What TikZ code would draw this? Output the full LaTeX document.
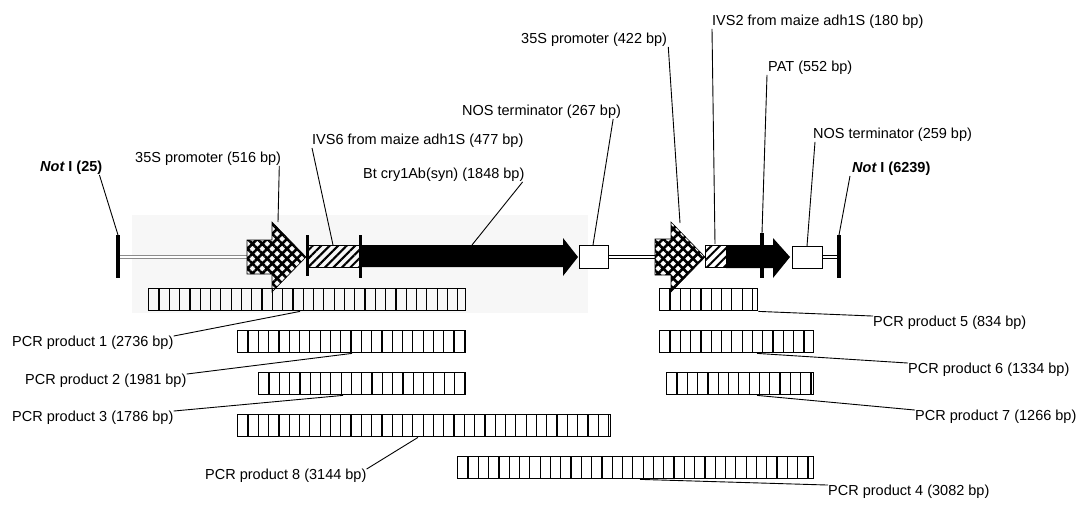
\documentclass[tikz,border=0pt]{standalone}
\usepackage{fontspec}
\setmainfont{Liberation Sans}
\usetikzlibrary{patterns.meta}
\tikzset{
  lbl/.style={font=\fontsize{14.5}{16}\selectfont,inner sep=0,anchor=west},
  leader/.style={line width=0.9pt},
  site/.style={line width=3.6pt},
  backbone/.style={line width=1.2pt,double=white,double distance=2.4pt},
  pcrbar/.style={draw,line width=1.4pt,inner sep=0,minimum height=22,anchor=north west,
    path picture={\foreach \k in {1,...,40}
      \draw[line width=1.2pt] ([xshift=\k*10.3]path picture bounding box.south west)
        -- ([xshift=\k*10.3]path picture bounding box.north west);}},
}

\begin{document}
\begin{tikzpicture}[x=1pt,y=-1pt]
  \useasboundingbox (0,0) rectangle (1081,516);
  \def\yc{257}
  % faint scan shadow behind the left cassette
  \fill[black!3] (132,215) rectangle (588,313);

  % backbone and Not I sites
  \draw[backbone,black!45] (118,\yc) -- (247,\yc);
  \draw[backbone] (608,\yc) -- (655,\yc);
  \draw[backbone] (822,\yc) -- (838,\yc);
  \draw[site] (118,235) -- (118,278);
  \draw[site] (839,235) -- (839,278);

  % cassette 1: 35S - IVS6 - cry1Ab - NOS
  \filldraw[pattern={Hatch[angle=45,distance=7pt,line width=2.6pt]},line width=0.6pt]
    (247,240) -- (272,240) -- (272,222) -- (306,\yc) -- (272,292) -- (272,274) -- (247,274) -- cycle;
  \filldraw[pattern={Lines[angle=45,distance=6pt,line width=2pt]},line width=0.6pt]
    (307,245) rectangle (360,267);
  \draw[line width=3pt] (307,235) -- (307,276);
  \draw[line width=3pt] (360,235) -- (360,278);
  \fill (360,245) -- (563,245) -- (563,238) -- (578,\yc) -- (563,276) -- (563,267) -- (360,267) -- cycle;
  \draw[fill=white,line width=1pt] (579,245) rectangle (608,268);

  % cassette 2: 35S - IVS2 - PAT - NOS
  \filldraw[pattern={Hatch[angle=45,distance=7pt,line width=2.6pt]},line width=0.6pt]
    (655,239) -- (671,239) -- (671,222) -- (705,\yc) -- (671,292) -- (671,275) -- (655,275) -- cycle;
  \filldraw[pattern={Lines[angle=45,distance=6pt,line width=2pt]},line width=0.6pt]
    (705,245) rectangle (726,267);
  \fill (726,245) -- (773,245) -- (773,238) -- (790,\yc) -- (773,278) -- (773,268) -- (726,268) -- cycle;
  \draw[line width=4pt] (762,233) -- (762,278);
  \draw[fill=white,line width=1pt] (792,246) rectangle (822,268);

  % feature points for the leaders
  \coordinate (notL) at (118,235);
  \coordinate (p35a) at (278,222);
  \coordinate (ivs6) at (333,245);
  \coordinate (cry)  at (472,245);
  \coordinate (nosa) at (593,245);
  \coordinate (p35b) at (680,223);
  \coordinate (ivs2) at (715,244);
  \coordinate (pat)  at (762,233);
  \coordinate (nosb) at (807,246);
  \coordinate (notR) at (839,235);

  % feature labels
  \node[lbl] (lnotL) at (40,168) {\bfseries{\itshape Not} I (25)};
  \node[lbl] (lp35a) at (135,159) {35S promoter (516 bp)};
  \node[lbl] (livs6) at (312,141) {IVS6 from maize adh1S (477 bp)};
  \node[lbl] (lcry)  at (363,175) {Bt cry1Ab(syn) (1848 bp)};
  \node[lbl] (lnosa) at (462,112) {NOS terminator (267 bp)};
  \node[lbl] (lp35b) at (521,40)  {35S promoter (422 bp)};
  \node[lbl] (livs2) at (712,22)  {IVS2 from maize adh1S (180 bp)};
  \node[lbl] (lpat)  at (768,68)  {PAT (552 bp)};
  \node[lbl] (lnosb) at (813,135) {NOS terminator (259 bp)};
  \node[lbl] (lnotR) at (852,169) {\bfseries{\itshape Not} I (6239)};

  \draw[leader] ([xshift=-3]lnotL.south east) -- (notL);
  \draw[leader] ([xshift=-2]lp35a.south east) -- (p35a);
  \draw[leader] (livs6.south west) -- (ivs6);
  \draw[leader] ([xshift=-2]lcry.south east) -- (cry);
  \draw[leader] ([xshift=-8]lnosa.south east) -- (nosa);
  \draw[leader] ([xshift=1]lp35b.south east) -- (p35b);
  \draw[leader] (livs2.south west) -- (ivs2);
  \draw[leader] ([xshift=-1]lpat.south west) -- (pat);
  \draw[leader] ([xshift=2]lnosb.south west) -- (nosb);
  \draw[leader] ([xshift=-2]lnotR.south west) -- (notR);

  % PCR products
  \node[pcrbar,minimum width=317] (bar1) at (148,288) {};
  \node[pcrbar,minimum width=228] (bar2) at (237,330) {};
  \node[pcrbar,minimum width=207] (bar3) at (258,372) {};
  \node[pcrbar,minimum width=373] (bar8) at (237,414) {};
  \node[pcrbar,minimum width=356] (bar4) at (457,456) {};
  \node[pcrbar,minimum width=98]  (bar5) at (659,288) {};
  \node[pcrbar,minimum width=154] (bar6) at (659,330) {};
  \node[pcrbar,minimum width=147] (bar7) at (666,372) {};

  \node[lbl] (l1) at (12,343)  {PCR product 1 (2736 bp)};
  \node[lbl] (l2) at (25,381)  {PCR product 2 (1981 bp)};
  \node[lbl] (l3) at (12,418)  {PCR product 3 (1786 bp)};
  \node[lbl] (l8) at (205,476) {PCR product 8 (3144 bp)};
  \node[lbl] (l4) at (828,492) {PCR product 4 (3082 bp)};
  \node[lbl] (l5) at (873,323) {PCR product 5 (834 bp)};
  \node[lbl] (l6) at (908,370) {PCR product 6 (1334 bp)};
  \node[lbl] (l7) at (915,417) {PCR product 7 (1266 bp)};

  \draw[leader] (l1.north east) -- ([xshift=152]bar1.south west);
  \draw[leader] (l2.north east) -- ([xshift=115]bar2.south west);
  \draw[leader] (l3.north east) -- ([xshift=85]bar3.south west);
  \draw[leader] (l8.north east) -- ([xshift=181]bar8.south west);
  \draw[leader] (l4.north west) -- ([xshift=183]bar4.south west);
  \draw[leader] (l5.north west) -- (bar5.south east);
  \draw[leader] (l6.north west) -- ([xshift=98]bar6.south west);
  \draw[leader] (l7.north west) -- ([xshift=91]bar7.south west);
\end{tikzpicture}
\end{document}
